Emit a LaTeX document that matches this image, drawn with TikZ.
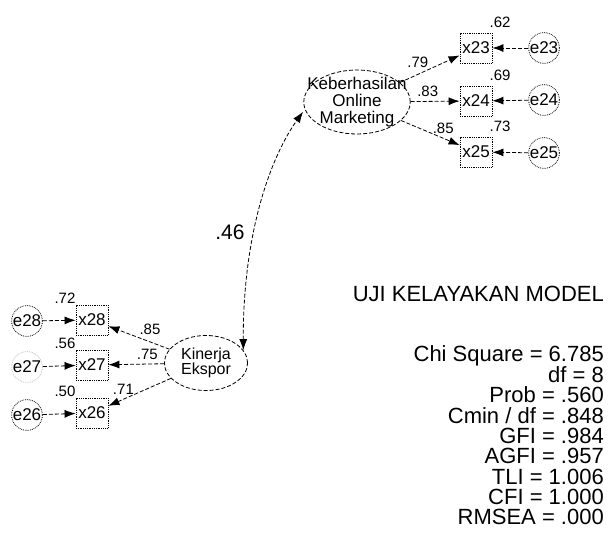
\documentclass[tikz,border=0pt]{standalone}
\usepackage{fontspec}
\setmainfont{Liberation Sans}
\usetikzlibrary{arrows.meta, positioning, shapes.geometric}

\begin{document}
\begin{tikzpicture}[
    x=1pt, y=-1pt,
    >={Latex[length=11pt,width=8pt]},
    obs/.style={rectangle, draw, densely dotted, line width=0.8pt, minimum width=32pt, minimum height=30pt, inner sep=0pt, font=\fontsize{17}{17}\selectfont},
    err/.style={circle, draw, densely dotted, line width=0.8pt, minimum size=28pt, inner sep=0pt, font=\fontsize{17}{17}\selectfont},
    latent/.style={ellipse, draw, dash pattern=on 4pt off 2pt, line width=0.8pt, align=center},
    reg/.style={->, dash pattern=on 4pt off 2pt, line width=0.8pt},
    coef/.style={font=\fontsize{15}{15}\selectfont, inner sep=1pt},
    stats/.style={align=right, inner sep=0pt, font=\fontsize{22}{20.3}\selectfont}
  ]
    \useasboundingbox (0,0) rectangle (612,536);

    \node[latent, inner xsep=-12pt, inner ysep=-2pt, font=\fontsize{17}{16.7}\selectfont] (kom) at (357,102) {Keberhasilan\\Online\\Marketing};
    \node[latent, inner sep=4.5pt, font=\fontsize{16}{15}\selectfont] (ke) at (206,363) {Kinerja\\Ekspor};

    % indicators of online marketing
    \node[obs, label={[coef, xshift=-3pt, yshift=4pt]above right:.62}] (x23) at (476,48) {x23};
    \node[obs, label={[coef, xshift=-3pt, yshift=4pt]above right:.69}] (x24) at (476,101) {x24};
    \node[obs, label={[coef, xshift=-3pt, yshift=4pt]above right:.73}] (x25) at (476,152) {x25};
    \node[err] (e23) at (544,48) {e23};
    \node[err] (e24) at (544,100) {e24};
    \node[err] (e25) at (544,153) {e25};

    % indicators of export performance
    \node[obs, label={[coef]above left:.72}] (x28) at (92,320) {x28};
    \node[obs, label={[coef]above left:.56}] (x27) at (92,365) {x27};
    \node[obs, label={[coef]above left:.50}] (x26) at (92,413) {x26};
    \node[err] (e28) at (27,321) {e28};
    \node[err, draw=black!25] (e27) at (27,367) {e27};
    \node[err] (e26) at (27,415) {e26};

    \draw[reg] (kom) -- node[coef, pos=0.3, above=5pt]{.79} (x23);
    \draw[reg] (kom) -- node[coef, pos=0.35, above=3pt]{.83} (x24);
    \draw[reg] (kom) -- node[coef, pos=0.72, above=3pt]{.85} (x25);
    \draw[reg] (e23) -- (x23);
    \draw[reg] (e24) -- (x24);
    \draw[reg] (e25) -- (x25);

    \draw[reg] (ke) -- node[coef, pos=0.32, above=6pt]{.85} (x28);
    \draw[reg] (ke) -- node[coef, pos=0.3, above=3pt]{.75} (x27);
    \draw[reg] (ke) -- node[coef, pos=0.76, above=3pt]{.71} (x26);
    \draw[reg] (e28) -- (x28);
    \draw[reg] (e27) -- (x27);
    \draw[reg] (e26) -- (x26);

    % correlation between the two factors
    \draw[<->, dash pattern=on 4pt off 2pt, line width=0.8pt, shorten >=3pt]
      (ke.19) .. controls (243,230) and (272,155) .. node[pos=0.38, left=6pt, font=\fontsize{21}{21}\selectfont]{.46} (kom.188);

    \node[anchor=base east, inner sep=0pt, font=\fontsize{22}{22}\selectfont] (title) at (604,301) {UJI KELAYAKAN MODEL};
    \node[stats, anchor=north east] (fit) at (604,345) {Chi Square = 6.785\\df = 8\\Prob = .560\\Cmin / df = .848\\GFI = .984\\AGFI = .957\\TLI = 1.006\\CFI = 1.000\\RMSEA = .000};
\end{tikzpicture}
\end{document}
